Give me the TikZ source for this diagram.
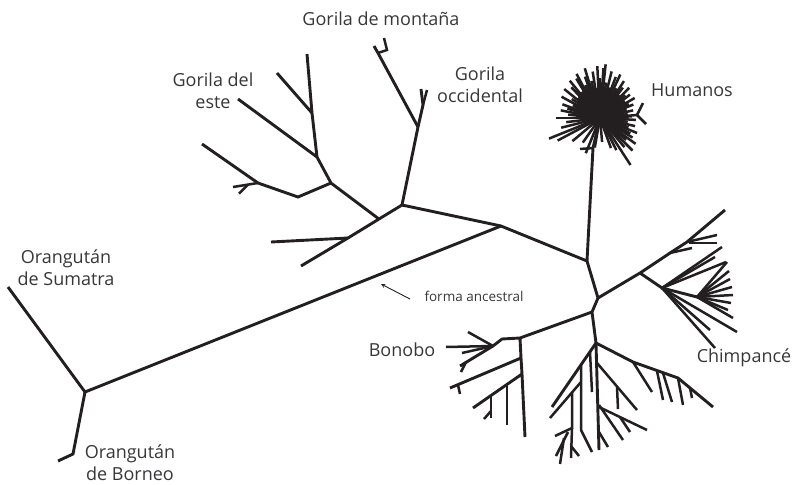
\documentclass[tikz,border=0pt]{standalone}
\usepackage{fontspec}
\setmainfont{Open Sans}
\usetikzlibrary{arrows.meta}
\definecolor{ink}{RGB}{35,31,32}
\definecolor{labelgray}{RGB}{55,55,57}

\begin{document}
\begin{tikzpicture}[x=1pt,y=-1pt,>=stealth]
  \tikzstyle{branch}=[draw=ink, line width=2.9pt]
  \tikzstyle{twig}=[draw=ink, line width=2.5pt]
  \tikzstyle{taxon}=[text=labelgray, font=\fontsize{18}{22}\selectfont, align=center, inner sep=0pt]
  \tikzstyle{pointer}=[draw=ink, line width=0.9pt, ->]

  \useasboundingbox (0,0) rectangle (796,485);

  % trunk and orangutans
  \coordinate (O) at (85,392);
  \coordinate (sum) at (8,287);
  \coordinate (bor1) at (73,454);
  \coordinate (bor) at (58,461);
  \coordinate (A) at (501,226);
  \coordinate (G) at (402,205);
  \coordinate (H1) at (587,261);
  \coordinate (C0) at (598,298);
  \coordinate (B0) at (592,312);
  \coordinate (D0) at (596,343);

  \draw[branch] (sum) -- (O) -- (A);
  \draw[branch] (bor) -- (bor1) -- (O);
  \draw[branch] (G) -- (A) -- (H1) -- (C0) -- (B0) -- (D0);

  % gorillas
  \coordinate (g1) at (379,219);
  \coordinate (g2) at (348,238);
  \coordinate (g3) at (301,266);
  \coordinate (g4) at (271,242);
  \draw[branch] (G) -- (g1) -- (g2) -- (g3);
  \draw[branch] (g2) -- (g4);

  \coordinate (E1) at (331,183);
  \coordinate (E2) at (317,157);
  \coordinate (E4) at (312,113);
  \coordinate (e5) at (307,54);
  \coordinate (e6) at (277,73);
  \coordinate (eT) at (238,99);
  \coordinate (e7) at (298,197);
  \coordinate (E3) at (258,183);
  \coordinate (e8) at (202,144);
  \draw[branch] (g1) -- (E1) -- (E2) -- (E4) -- (e5);
  \draw[branch] (E4) -- (e6);
  \draw[branch] (E2) -- (eT);
  \draw[branch] (E1) -- (e7) -- (E3) -- (e8);
  \draw[twig] (E3) -- ++(-25,4);
  \draw[twig] (E3) ++(-10,1.6) -- ++(-9,9);

  \coordinate (W) at (418,127);
  \coordinate (w1) at (423,105);
  \coordinate (M) at (378,53);
  \draw[branch] (G) -- (W) -- (w1) -- ++(-2,-16);
  \draw[twig] (w1) -- ++(4,-15);
  \draw[branch] (W) -- (M) -- ++(-4,-7);
  \draw[twig] (M) -- ++(9,-3) -- ++(-3,-12);

  % humans
  \coordinate (H2) at (593,148);
  \coordinate (hc) at (600,118);
  \coordinate (hf) at (637,115);
  \draw[branch] (H1) -- (H2) -- (hc);
  \draw[twig] (H2) -- ++(-13,1);
  \foreach \a/\r in {200/40, 205/30, 209/44, 214/34, 219/46, 223/30, 227/42, 231/48,
      235/32, 239/46, 242/50, 246/36, 250/44, 253/52, 257/38, 261/47, 264/30, 267/52,
      270/40, 274/50, 276/54, 280/36, 284/48, 287/32, 291/44, 295/48, 299/34, 303/44,
      307/38, 311/30, 314/42, 318/34, 322/38, 326/30, 330/40, 334/32, 338/36, 342/28,
      347/34, 352/28, 357/32, 3/36, 8/28, 13/36, 18/30, 22/40, 27/34, 31/38, 36/44,
      40/34, 45/46, 50/38, 57/56, 63/36, 70/32, 85/24, 100/30, 112/38, 125/30, 140/36,
      152/48, 158/55, 166/40, 173/34, 180/44, 186/32, 191/40, 196/34}
    \draw[twig] (hc) -- ++(\a:\r);
  \draw[twig] (hc) -- (hf);
  \draw[twig] (hf) -- ++(6,-12);
  \draw[twig] (hf) -- ++(9,9);

  % chimpanzees
  \coordinate (C1) at (640,273);
  \coordinate (cu1) at (670,253);
  \coordinate (cu2) at (687,242);
  \coordinate (cf) at (662,288);
  \coordinate (ch) at (697,297);
  \draw[branch] (C0) -- (C1) -- (cu1) -- (cu2) -- ++(38,-32);
  \draw[twig] (cu1) -- ++(22,-5);
  \draw[twig] (cu2) -- ++(30,-7);
  \draw[twig] (cu2) ++(2,1) -- ++(28,0);
  \draw[branch] (C1) -- (cf) -- (ch);
  \foreach \dx/\dy in {60/-41, 53/-31, 75/44, 53/60, 48/42, 64/-26}
    \draw[twig] (cf) -- ++(\dx,\dy);
  \foreach \dx/\dy in {30/-35, 32/-26, 33/-18, 35/-10, 36/-2, 34/6, 31/13, 36/21}
    \draw[twig] (ch) -- ++(\dx,\dy);

  % bonobos
  \coordinate (B1) at (520,338);
  \coordinate (bl) at (502,339);
  \coordinate (bf) at (493,346);
  \coordinate (v1) at (521,358);
  \coordinate (v2) at (522,374);
  \draw[branch] (B0) -- (B1) -- (bl) -- (bf) -- ++(-33,20);
  \draw[twig] (bf) -- ++(-25,-14);
  \draw[twig] (bf) -- ++(-47,1);
  \draw[twig] (bf) -- ++(-31,7);
  \draw[twig] (bf) ++(-27,16) -- ++(-5,10);
  \draw[branch] (B1) -- (v1) -- (v2) -- ++(3,63);
  \draw[branch] (v1) -- ++(-71,30);
  \draw[twig] (v1) ++(-63,27) -- ++(2,9);
  \draw[branch] (v2) -- ++(-49,34);
  \draw[twig] (507,384) -- ++(0,41);
  \draw[twig] (491,395) -- ++(0,23);
  \draw[twig] (491,411) -- ++(-7,8);

  % lower cluster
  \coordinate (dL) at (552,407);
  \coordinate (dv1) at (590,352);
  \coordinate (dv2) at (581,365);
  \coordinate (dq) at (581,382);
  \coordinate (dq2) at (572,392);
  \coordinate (bt) at (572,428);
  \draw[branch] (D0) -- (dL);
  \draw[branch] (D0) -- ++(3,107);
  \draw[twig] (dv1) -- ++(2,40);
  \draw[twig] (dv2) -- ++(0,65) -- ++(11,22);
  \draw[twig] (dq) -- ++(-31,36);
  \draw[twig] (dq2) -- (bt) -- ++(-17,8);
  \draw[twig] (bt) -- ++(-1,30);
  \draw[twig] (bt) ++(-1,18) -- ++(8,10);
  \draw[twig] (bt) ++(-4,4) -- ++(-12,24);
  \draw[twig] (bt) ++(-8,10) -- ++(-4,26);

  \coordinate (dr1) at (597,363);
  \coordinate (dr3) at (599,407);
  \draw[twig] (dr1) -- ++(40,47);
  \draw[twig] (617,387) -- ++(1,22);
  \draw[twig] (599,405) -- ++(24,35);
  \draw[twig] (dr3) -- ++(48,23);
  \draw[twig] (620,417) -- ++(10,15);
  \draw[twig] (599,432) -- ++(9,15);

  \coordinate (r1) at (633,362);
  \coordinate (r2) at (678,378);
  \draw[branch] (D0) -- (r1) -- (r2) -- ++(35,29);
  \draw[twig] (r1) -- ++(19,30);
  \draw[twig] (657,371) -- ++(6,29);
  \draw[twig] (663,373) -- ++(9,29);
  \draw[twig] (r2) -- ++(5,27);
  \draw[twig] (690,388) -- ++(2,10);

  % labels
  \node[taxon] (montana) at (381,19) {Gorila de montaña};
  \node[taxon] (occidental) at (480,85) {Gorila\\occidental};
  \node[taxon] (oriental) at (213,91) {Gorila del\\este};
  \node[taxon] (humanos) at (692,90) {Humanos};
  \node[taxon] (sumatra) at (66,268) {Orangután\\de Sumatra};
  \node[taxon] (borneo) at (130,463) {Orangután\\de Borneo};
  \node[taxon] (bonobo) at (402,350) {Bonobo};
  \node[taxon] (chimp) at (744,358) {Chimpancé};
  \node[taxon, font=\fontsize{13.5}{16}\selectfont] (ancestral) at (474,296) {forma ancestral};

  \coordinate (tailA) at (410,299);
  \coordinate (tipA) at (381,284);
  \draw[pointer] (tailA) -- (tipA);
\end{tikzpicture}
\end{document}
